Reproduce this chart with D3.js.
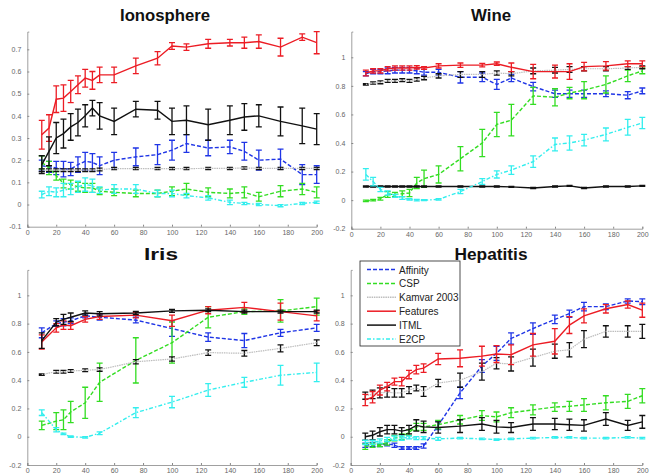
<!DOCTYPE html>
<html>
<head>
<meta charset="utf-8">
<script src="https://cdn.jsdelivr.net/npm/d3@7"></script>
<style>
  body { margin: 0; background: #fff; }
  svg { display: block; }
  text { font-family: "Liberation Sans", Arial, sans-serif; }
</style>
</head>
<body>
<svg id="chart" width="656" height="475"></svg>
<script>
// number of constraints on the x axis
const xFull = [10,15,20,25,30,35,40,45,50,60,75,90,100,110,125,140,150,160,175,190,200];
const xIris = [10,20,25,30,40,50,75,100,125,150,175,200];

const methods = ["Affinity", "CSP", "Kamvar 2003", "Features", "ITML", "E2CP"];

// each entry: [mean, error]
// --- Ionosphere
const ionoAffinity = [[.175,.025],[.17,.025],[.165,.03],[.16,.035],[.16,.03],[.18,.035],[.195,.04],[.19,.04],[.175,.04],[.2,.035],[.215,.04],[.225,.045],[.245,.045],[.275,.04],[.255,.035],[.26,.03],[.24,.04],[.2,.045],[.205,.045],[.135,.045],[.135,.04]];
const ionoCSP = [[.19,.03],[.165,.03],[.13,.02],[.095,.02],[.09,.02],[.08,.02],[.075,.02],[.075,.02],[.06,.015],[.055,.015],[.05,.015],[.05,.015],[.06,.02],[.07,.025],[.055,.02],[.05,.02],[.055,.025],[.035,.02],[.06,.025],[.07,.025],[.055,.025]];
const ionoKamvar = [[.155,.006],[.155,.006],[.155,.006],[.155,.006],[.155,.006],[.155,.006],[.155,.006],[.155,.006],[.158,.006],[.162,.005],[.162,.005],[.162,.005],[.162,.005],[.162,.005],[.163,.005],[.163,.005],[.165,.005],[.163,.005],[.163,.005],[.163,.005],[.163,.005]];
const ionoFeatures = [[.315,.065],[.345,.06],[.475,.06],[.48,.06],[.51,.05],[.54,.04],[.57,.04],[.56,.04],[.585,.035],[.585,.035],[.625,.035],[.66,.03],[.715,.015],[.71,.015],[.725,.02],[.73,.015],[.73,.025],[.735,.03],[.71,.04],[.755,.015],[.73,.05]];
const ionoITML = [[.18,.04],[.24,.065],[.3,.07],[.32,.065],[.35,.06],[.37,.06],[.4,.05],[.435,.035],[.4,.06],[.375,.06],[.43,.035],[.425,.04],[.375,.06],[.38,.065],[.36,.07],[.38,.065],[.395,.06],[.4,.05],[.375,.065],[.355,.08],[.34,.07]];
const ionoE2CP = [[.045,.015],[.06,.02],[.055,.02],[.065,.03],[.07,.025],[.08,.025],[.09,.03],[.085,.03],[.065,.015],[.07,.02],[.07,.02],[.05,.015],[.05,.015],[.04,.01],[.03,.01],[.01,.01],[.005,.005],[0,.005],[-.005,.005],[.005,.005],[.01,.005]];

// --- Wine
const wineAffinity = [[.885,.015],[.9,.015],[.9,.015],[.905,.02],[.91,.02],[.91,.02],[.91,.02],[.905,.02],[.895,.02],[.895,.02],[.86,.04],[.86,.03],[.81,.035],[.855,.025],[.795,.03],[.745,.025],[.745,.025],[.745,.025],[.745,.02],[.735,.025],[.765,.02]];
const wineCSP = [[-.005,.005],[0,.005],[.01,.01],[.04,.02],[.04,.015],[.045,.02],[.05,.025],[.12,.04],[.15,.06],[.18,.06],[.29,.085],[.4,.095],[.53,.085],[.56,.11],[.73,.06],[.72,.06],[.75,.04],[.77,.06],[.81,.06],[.87,.04],[.905,.02]];
const wineKamvar = [[.81,.005],[.82,.008],[.825,.01],[.835,.01],[.835,.01],[.84,.01],[.835,.01],[.845,.012],[.855,.012],[.87,.015],[.88,.02],[.88,.02],[.89,.015],[.885,.015],[.905,.02],[.91,.02],[.915,.02],[.92,.015],[.92,.015],[.925,.01],[.93,.01]];
const wineFeatures = [[.89,.02],[.905,.015],[.905,.015],[.92,.015],[.925,.015],[.925,.015],[.925,.015],[.93,.012],[.925,.01],[.94,.015],[.945,.015],[.945,.012],[.955,.012],[.93,.03],[.9,.05],[.9,.045],[.9,.055],[.935,.03],[.94,.03],[.955,.02],[.955,.02]];
const wineITML = [[.095,.004],[.095,.004],[.095,.004],[.095,.004],[.095,.004],[.095,.004],[.095,.004],[.095,.004],[.095,.004],[.095,.004],[.095,.004],[.095,.004],[.095,.004],[.093,.004],[.085,.005],[.095,.004],[.1,.004],[.085,.005],[.095,.004],[.095,.004],[.1,.004]];
const wineE2CP = [[.18,.04],[.13,.03],[.075,.015],[.05,.015],[.03,.01],[.015,.01],[.005,.005],[0,.005],[0,.003],[.005,.005],[.06,.015],[.13,.02],[.18,.025],[.21,.03],[.27,.04],[.39,.045],[.4,.05],[.42,.04],[.46,.045],[.51,.055],[.54,.04]];

// --- Iris
const irisAffinity = [[.735,.035],[.8,.02],[.81,.025],[.82,.02],[.855,.015],[.845,.02],[.825,.02],[.765,.055],[.705,.03],[.68,.05],[.735,.025],[.77,.025]];
const irisCSP = [[.08,.03],[.11,.06],[.12,.07],[.175,.075],[.24,.11],[.385,.135],[.54,.16],[.665,.145],[.845,.075],[.885,.02],[.89,.08],[.92,.06]];
const irisKamvar = [[.44,.005],[.46,.01],[.46,.01],[.465,.01],[.47,.01],[.475,.012],[.53,.015],[.55,.015],[.595,.02],[.59,.02],[.625,.025],[.665,.02]];
const irisFeatures = [[.67,.05],[.77,.03],[.79,.03],[.785,.025],[.83,.02],[.85,.02],[.86,.02],[.82,.04],[.895,.025],[.915,.035],[.885,.06],[.855,.035]];
const irisITML = [[.68,.055],[.81,.025],[.83,.035],[.845,.03],[.875,.015],[.87,.015],[.875,.012],[.89,.01],[.895,.01],[.885,.01],[.885,.01],[.885,.01]];
const irisE2CP = [[.17,.02],[.05,.015],[.02,.005],[0,.005],[-.005,.005],[.025,.01],[.17,.035],[.245,.04],[.33,.045],[.385,.035],[.435,.07],[.455,.065]];

// --- Hepatitis
const hepaAffinity = [[-.06,.015],[-.055,.015],[-.06,.01],[-.05,.015],[-.06,.015],[-.08,.01],[-.08,.01],[-.08,.01],[-.065,.015],[.08,.03],[.31,.04],[.5,.045],[.59,.05],[.695,.04],[.765,.04],[.83,.03],[.87,.025],[.92,.03],[.92,.02],[.96,.015],[.955,.02]];
const hepaCSP = [[-.07,.02],[-.06,.015],[-.06,.01],[-.04,.02],[-.01,.02],[0,.02],[.03,.02],[.07,.025],[.07,.025],[.085,.03],[.12,.03],[.15,.035],[.14,.035],[.17,.035],[.19,.035],[.21,.03],[.215,.035],[.225,.045],[.24,.05],[.25,.05],[.29,.05]];
const hepaKamvar = [[.29,.025],[.3,.03],[.31,.035],[.315,.035],[.31,.03],[.31,.03],[.33,.025],[.345,.02],[.32,.035],[.38,.025],[.4,.05],[.46,.06],[.52,.04],[.515,.05],[.56,.06],[.605,.05],[.615,.05],[.69,.06],[.745,.04],[.745,.04],[.745,.05]];
const hepaFeatures = [[.26,.04],[.28,.04],[.33,.035],[.355,.03],[.39,.025],[.39,.03],[.44,.03],[.475,.03],[.485,.03],[.55,.04],[.555,.06],[.57,.07],[.585,.06],[.58,.07],[.65,.08],[.675,.09],[.79,.06],[.855,.05],[.905,.03],[.935,.025],[.895,.05]];
const hepaITML = [[0,.025],[.01,.03],[.035,.03],[.05,.03],[.05,.03],[.04,.025],[.05,.03],[.08,.04],[.07,.04],[.065,.04],[.075,.045],[.09,.045],[.07,.045],[.065,.035],[.09,.045],[.09,.04],[.085,.04],[.08,.04],[.125,.045],[.08,.035],[.105,.045]];
const hepaE2CP = [[-.04,.015],[-.04,.015],[-.03,.015],[-.02,.015],[-.01,.015],[-.01,.015],[-.005,.01],[-.01,.01],[-.01,.01],[-.015,.01],[-.01,.005],[-.015,.005],[-.02,.005],[-.015,.005],[-.01,.005],[-.005,.005],[-.005,.005],[-.01,.005],[-.01,.005],[-.005,.005],[-.01,.005]];

const xTicks = d3.range(0, 201, 20);
const ticksIono = [-0.1, 0, 0.1, 0.2, 0.3, 0.4, 0.5, 0.6, 0.7];
const ticksOther = [-0.2, 0, 0.2, 0.4, 0.6, 0.8, 1];

// line styles per method
const lineColor = ["#1f35e6", "#33dd22", "#bdbdbd", "#ec1c24", "#111111", "#33eeee"];
const barColor  = ["#1f35e6", "#33dd22", "#111111", "#ec1c24", "#111111", "#33eeee"];
const dash      = ["4,2", "4,2", "1.5,0.8", null, null, "4,2,1.5,2"];

const panels = [
  {title: "Ionosphere", xs: xFull, data: [ionoAffinity, ionoCSP, ionoKamvar, ionoFeatures, ionoITML, ionoE2CP],
   x0: 27.3, x1: 316.7, top: 31.6, bottom: 226.7, dom: [-0.1, 0.78], ticks: ticksIono, tx: 165, ty: 21, tw: 90},
  {title: "Wine", xs: xFull, data: [wineAffinity, wineCSP, wineKamvar, wineFeatures, wineITML, wineE2CP],
   x0: 351.3, x1: 642.3, top: 31.6, bottom: 228.7, dom: [-0.2, 1.18], ticks: ticksOther, tx: 491, ty: 21, tw: 40},
  {title: "Iris", xs: xIris, data: [irisAffinity, irisCSP, irisKamvar, irisFeatures, irisITML, irisE2CP],
   x0: 27.3, x1: 316.7, top: 269.9, bottom: 465, dom: [-0.2, 1.18], ticks: ticksOther, tx: 161, ty: 260, tw: 34},
  {title: "Hepatitis", xs: xFull, data: [hepaAffinity, hepaCSP, hepaKamvar, hepaFeatures, hepaITML, hepaE2CP],
   x0: 350.7, x1: 642.3, top: 269.9, bottom: 465, dom: [-0.2, 1.18], ticks: ticksOther, tx: 491, ty: 260, tw: 73}
];

const svg = d3.select("#chart");
const fmt = d => String(+d.toFixed(2));

panels.forEach(p => {
  const x = d3.scaleLinear().domain([0, 200]).range([p.x0, p.x1]);
  const y = d3.scaleLinear().domain(p.dom).range([p.bottom, p.top]);
  const g = svg.append("g");

  // axes (MATLAB style: left + bottom only, inward ticks)
  const ax = g.append("g")
      .attr("transform", `translate(0,${p.bottom})`)
      .call(d3.axisBottom(x).tickValues(xTicks).tickSize(-2).tickPadding(3).tickFormat(fmt));
  const ay = g.append("g")
      .attr("transform", `translate(${p.x0},0)`)
      .call(d3.axisLeft(y).tickValues(p.ticks).tickSize(-2).tickPadding(6).tickFormat(fmt));
  [ax, ay].forEach(a => {
    a.select(".domain").attr("stroke", "#888").attr("stroke-width", 0.8);
    a.selectAll(".tick line").attr("stroke", "#888");
    a.selectAll(".tick text").attr("fill", "#666").attr("font-size", 7);
  });

  g.append("text")
      .attr("x", p.tx).attr("y", p.ty)
      .attr("text-anchor", "middle")
      .attr("font-size", 16).attr("font-weight", "bold")
      .attr("textLength", p.tw).attr("lengthAdjust", "spacingAndGlyphs")
      .attr("fill", "#111")
      .text(p.title);

  const line = d3.line().x(d => x(d[0])).y(d => y(d[1]));

  p.data.forEach((s, i) => {
    const pts = s.map((v, j) => [p.xs[j], v[0], v[1]]);
    // error bars
    const eb = g.append("g")
        .attr("stroke", barColor[i]).attr("stroke-width", 1.3).attr("fill", "none");
    eb.selectAll("path")
      .data(pts)
      .join("path")
        .attr("d", d => {
          const cx = x(d[0]), hi = y(d[1] + d[2]), lo = y(d[1] - d[2]);
          return `M${cx},${hi}V${lo}M${cx - 3},${hi}H${cx + 3}M${cx - 3},${lo}H${cx + 3}`;
        });
    g.append("path")
        .datum(pts)
        .attr("fill", "none")
        .attr("stroke", lineColor[i])
        .attr("stroke-width", i === 2 ? 1.2 : 1.4)
        .attr("stroke-dasharray", dash[i])
        .attr("d", line);
  });
});

// legend inside Hepatitis panel
const leg = svg.append("g");
leg.append("rect")
    .attr("x", 360).attr("y", 261).attr("width", 100).attr("height", 85)
    .attr("fill", "#fff").attr("stroke", "#222").attr("stroke-width", 0.8);
const rows = leg.selectAll("g.row")
  .data(methods)
  .join("g")
    .attr("class", "row")
    .attr("transform", (d, i) => `translate(0,${269.5 + i * 13.9})`);
rows.append("line")
    .attr("x1", 367).attr("x2", 396)
    .attr("stroke", (d, i) => lineColor[i])
    .attr("stroke-width", 1.5)
    .attr("stroke-dasharray", (d, i) => dash[i]);
rows.append("text")
    .attr("x", 399).attr("y", 4)
    .attr("font-size", 10)
    .attr("fill", "#222")
    .text(d => d);
</script>
</body>
</html>
